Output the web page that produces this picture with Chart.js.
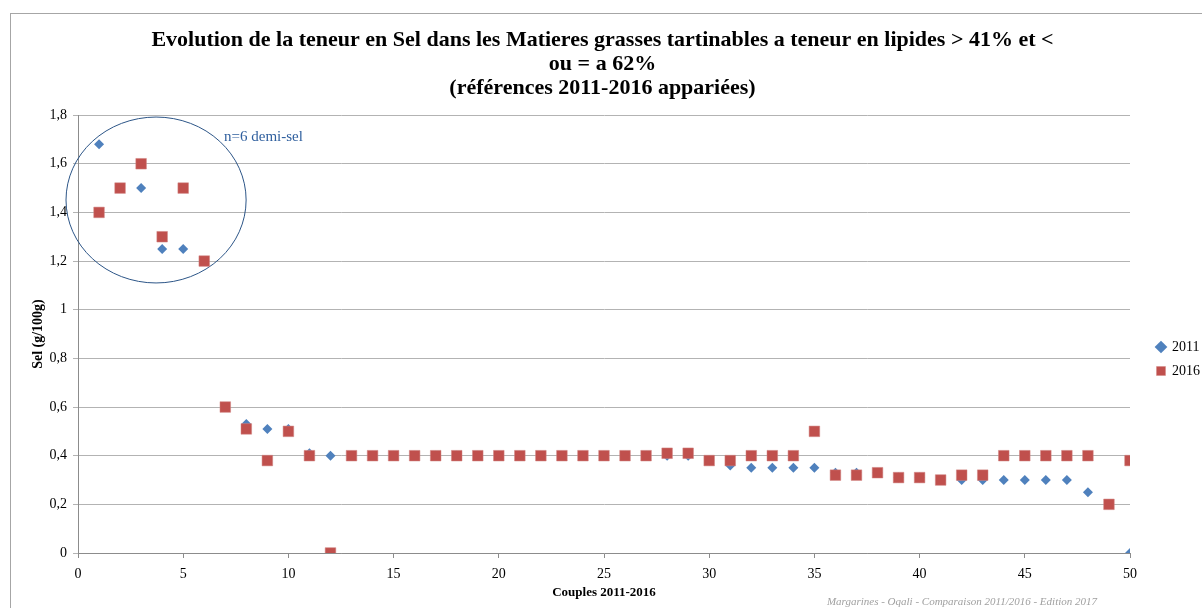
<!DOCTYPE html>
<html>
<head>
<meta charset="utf-8">
<script src="https://cdn.jsdelivr.net/npm/chart.js@4.4.0/dist/chart.umd.min.js"></script>
<style>
  html, body { margin: 0; padding: 0; background: #fff; }
  #wrap { width: 1202px; height: 608px; }
</style>
</head>
<body>
<div id="wrap"><canvas id="chart"></canvas></div>
<script>
// couples 2011-2016 (x)
const couples = [1, 2, 3, 4, 5, 6, 7, 8, 9, 10,
  11, 12, 13, 14, 15, 16, 17, 18, 19, 20,
  21, 22, 23, 24, 25, 26, 27, 28, 29, 30,
  31, 32, 33, 34, 35, 36, 37, 38, 39, 40,
  41, 42, 43, 44, 45, 46, 47, 48, 49, 50];

// sel g/100g
const sel2011 = [1.68, 1.5, 1.5, 1.25, 1.25, 1.2, 0.6, 0.53, 0.51, 0.51,
  0.41, 0.40, 0.40, 0.40, 0.40, 0.40, 0.40, 0.40, 0.40, 0.40,
  0.40, 0.40, 0.40, 0.40, 0.40, 0.40, 0.40, 0.40, 0.40, 0.38,
  0.36, 0.35, 0.35, 0.35, 0.35, 0.33, 0.33, 0.33, 0.31, 0.31,
  0.30, 0.30, 0.30, 0.30, 0.30, 0.30, 0.30, 0.25, 0.20, 0];

const sel2016 = [1.4, 1.5, 1.6, 1.3, 1.5, 1.2, 0.6, 0.51, 0.38, 0.50,
  0.40, 0, 0.40, 0.40, 0.40, 0.40, 0.40, 0.40, 0.40, 0.40,
  0.40, 0.40, 0.40, 0.40, 0.40, 0.40, 0.40, 0.41, 0.41, 0.38,
  0.38, 0.40, 0.40, 0.40, 0.50, 0.32, 0.32, 0.33, 0.31, 0.31,
  0.30, 0.32, 0.32, 0.40, 0.40, 0.40, 0.40, 0.40, 0.20, 0.38];

const titleLines = [
  "Evolution de la teneur en Sel dans les Matieres grasses tartinables a teneur en lipides > 41% et <",
  "ou = a 62%",
  "(références 2011-2016 appariées)"
];

const SERIF = "'Liberation Serif', 'DejaVu Serif', serif";

function toPoints(vals) {
  return couples.map((c, i) => ({ x: c, y: vals[i] }));
}

// cercle "demi-sel" + note de bas de page + cadre
const extras = {
  id: 'extras',
  afterLayout(chart) {
    // legende un peu plus bas et a droite, titre centre sur la page
    const lg = chart.legend;
    lg.left += 17; lg.right += 17;
    lg.top += 50; lg.bottom += 50;
    const tb = chart.titleBlock;
    tb.left -= 8; tb.right -= 8;
  },
  beforeDraw(chart) {
    const ctx = chart.ctx;
    ctx.save();
    ctx.strokeStyle = '#a6a6a6';
    ctx.lineWidth = 1;
    ctx.strokeRect(10.5, 13.5, 1400, 800);
    ctx.restore();
  },
  beforeDatasetsDraw(chart) {
    const { ctx, scales: { x, y } } = chart;
    const cx = x.getPixelForValue(3.71), cy = y.getPixelForValue(1.451);
    const rx = x.getPixelForValue(3.71 + 4.28) - cx;
    const ry = cy - y.getPixelForValue(1.451 + 0.341);
    ctx.save();
    ctx.strokeStyle = '#2c5587';
    ctx.lineWidth = 1;
    ctx.beginPath();
    ctx.ellipse(cx, cy, rx, ry, 0, 0, Math.PI * 2);
    ctx.stroke();
    ctx.fillStyle = '#2f5f9e';
    ctx.font = "15px " + SERIF;
    ctx.textBaseline = 'middle';
    ctx.fillText('n=6 demi-sel', x.getPixelForValue(6.94), y.getPixelForValue(1.71));
    ctx.restore();
  },
  afterDraw(chart) {
    const ctx = chart.ctx;
    ctx.save();
    ctx.fillStyle = '#a0a0a0';
    ctx.font = "italic 11px " + SERIF;
    ctx.textAlign = 'right';
    ctx.textBaseline = 'middle';
    ctx.fillText('Margarines - Oqali - Comparaison 2011/2016 - Edition 2017', 1097, 602);
    ctx.restore();
  }
};

new Chart(document.getElementById('chart'), {
  type: 'scatter',
  data: {
    datasets: [
      {
        label: '2011',
        data: toPoints(sel2011),
        pointStyle: 'rectRot',
        pointRadius: 5,
        backgroundColor: '#4f81bd',
        borderColor: '#4f81bd',
        borderWidth: 0,
        order: 2
      },
      {
        label: '2016',
        data: toPoints(sel2016),
        pointStyle: 'rect',
        pointRadius: 7.5,
        backgroundColor: '#c0504d',
        borderColor: '#d08582',
        borderWidth: 0.5,
        order: 1
      }
    ]
  },
  options: {
    responsive: true,
    maintainAspectRatio: false,
    animation: false,
    layout: { padding: { top: 18, left: 28, right: 9, bottom: 8 } },
    plugins: {
      tooltip: { enabled: false },
      title: {
        display: true,
        text: titleLines,
        color: '#000',
        font: { family: SERIF, size: 22, weight: 'bold', lineHeight: 1.1 },
        padding: { top: 10, bottom: 14.5 }
      },
      legend: {
        position: 'right',
        reverse: true,
        labels: {
          usePointStyle: true,
          boxWidth: 8,
          boxHeight: 9,
          color: '#000',
          font: { family: SERIF, size: 14 },
          padding: 10
        }
      }
    },
    scales: {
      x: {
        type: 'linear',
        min: 0,
        max: 50,
        afterFit: s => { s.height = 47; },
        ticks: { stepSize: 5, color: '#000', font: { family: SERIF, size: 14 }, padding: 8 },
        grid: { drawOnChartArea: false, drawTicks: true, tickLength: 5, color: '#8c8c8c' },
        border: { color: '#8c8c8c' },
        title: {
          display: true,
          text: 'Couples 2011-2016',
          color: '#000',
          font: { family: SERIF, size: 13, weight: 'bold' },
          padding: { top: 1.5, bottom: 0 }
        }
      },
      y: {
        min: 0,
        max: 1.8,
        afterFit: s => { s.width = 50; },
        ticks: {
          stepSize: 0.2,
          color: '#000',
          font: { family: SERIF, size: 14 },
          padding: 6,
          callback: v => String(Number(v.toFixed(1))).replace('.', ',')
        },
        grid: { color: '#b3b3b3', tickLength: 5 },
        border: { color: '#8c8c8c' },
        title: {
          display: true,
          text: 'Sel (g/100g)',
          color: '#000',
          font: { family: SERIF, size: 14, weight: 'bold' },
          padding: { top: 2, bottom: 6 }
        }
      }
    }
  },
  plugins: [extras]
});
</script>
</body>
</html>
